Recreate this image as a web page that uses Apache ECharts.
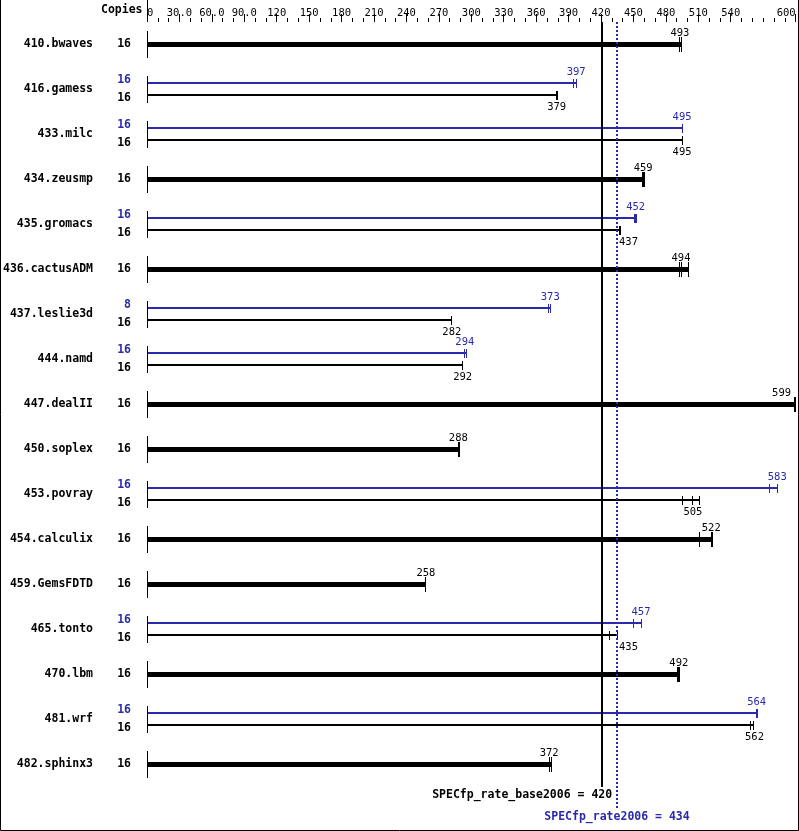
<!DOCTYPE html>
<html>
<head>
<meta charset="utf-8">
<script src="https://cdn.jsdelivr.net/npm/echarts@6/dist/echarts.min.js"></script>
<style>
html,body{margin:0;padding:0;background:#fff;}
#chart{width:799px;height:831px;}
</style>
</head>
<body>
<div id="chart"></div>
<script>
const benchmarks = ['410.bwaves','416.gamess','433.milc','434.zeusmp','435.gromacs','436.cactusADM','437.leslie3d','444.namd','447.dealII','450.soplex','453.povray','454.calculix','459.GemsFDTD','465.tonto','470.lbm','481.wrf','482.sphinx3'];
const baseCopies = [16,16,16,16,16,16,16,16,16,16,16,16,16,16,16,16,16];
const peakCopies = [null,16,16,null,16,null,8,16,null,null,16,null,null,16,null,16,null];
const baseValues = [493,379,495,459,437,494,282,292,599,288,505,522,258,435,492,562,372];
const peakValues = [null,397,495,null,452,null,373,294,null,null,583,null,null,457,null,564,null];
const baseRuns = [
  [493,493,494],[379,379,380],[495,495,495],[458,459,460],[437,437,438],
  [493,494,501],[282,282,282],[291.5,292,292],[599,599,599.5],[288,288,289],
  [495,505,511],[511,522,523.5],[258,258,258],[427.5,435,435],[491,492,493],
  [558.5,561,561],[372,372,374]
];
const peakRuns = [
  null,[395,397,397.5],[495,495,495],null,[451,452,453],
  null,[371,373,373],[293.5,294,295.5],null,null,
  [575.5,583,583.5],null,null,[450,457,457],null,
  [564,564,564.5],null
];
const tickValues = [0,30,60,90,120,150,180,210,240,270,300,330,360,390,420,450,480,510,540,600];
const tickLabels = ['0','30.0','60.0','90.0','120','150','180','210','240','270','300','330','360','390','420','450','480','510','540','600'];
const baseOverall = 420;
const peakOverall = 434;
const baseSummary = 'SPECfp_rate_base2006 = ' + baseOverall;
const peakSummary = 'SPECfp_rate2006 = ' + peakOverall;

const BLUE = '#2a2aaa';
const MONO = '"DejaVu Sans Mono", "Liberation Mono", monospace';

const barData = [];
benchmarks.forEach(function (name, i) {
  if (peakValues[i] != null) {
    barData.push({ value: [peakValues[i], i, 1].concat(peakRuns[i]) });
    barData.push({ value: [baseValues[i], i, 2].concat(baseRuns[i]) });
  } else {
    barData.push({ value: [baseValues[i], i, 0].concat(baseRuns[i]) });
  }
});

function renderBars(params, api) {
  const v = api.value(0), row = api.value(1), kind = api.value(2);
  const runs = [api.value(3), api.value(4), api.value(5)];
  const maxRun = Math.max.apply(null, runs);
  const cs = params.coordSys;
  const c0 = api.coord([0, row]);
  const cy = Math.floor(c0[1]);
  const off = kind === 1 ? -6 : (kind === 2 ? 6 : 0);
  const y = cy + off;
  const color = kind === 1 ? BLUE : '#000';
  const thick = kind === 0;
  const xEnd = api.coord([maxRun, row])[0];
  const children = [];
  if (thick) {
    children.push({ type: 'rect', shape: { x: c0[0], y: y - 2, width: xEnd - c0[0], height: 5 }, style: { fill: color } });
  } else {
    children.push({ type: 'rect', shape: { x: c0[0], y: y - 1, width: xEnd - c0[0], height: 2 }, style: { fill: color } });
  }
  const h = thick ? 7 : 4;
  runs.forEach(function (r) {
    const x = Math.floor(api.coord([r, row])[0]) + 0.5;
    children.push({ type: 'line', shape: { x1: x, y1: y - h, x2: x, y2: y + h + 1 }, style: { stroke: color, lineWidth: 1 } });
  });
  if (kind !== 1) {
    const sx = Math.floor(c0[0]) + 0.5;
    children.push({ type: 'line', shape: { x1: sx, y1: cy - 13, x2: sx, y2: cy + 14 }, style: { stroke: '#000', lineWidth: 1 } });
  }
  let lx = api.coord([v, row])[0];
  let align = 'center';
  const peakX = Math.floor(api.coord([peakOverall, row])[0]) + 1;
  const maxCenter = cs.x + cs.width - 14;
  if (lx > maxCenter) lx = maxCenter;
  if (kind === 2 && Math.abs(lx - peakX) < 12) { lx = peakX + 2; align = 'left'; }
  children.push({
    type: 'text',
    style: {
      text: String(v), x: lx, y: kind === 2 ? y + 12 : y - 11,
      align: align, verticalAlign: 'middle',
      font: '10.5px ' + MONO, fill: color
    }
  });
  return { type: 'group', children: children };
}

function renderRefs(params, api) {
  const v = api.value(0), kind = api.value(1);
  const cs = params.coordSys;
  const x = Math.floor(api.coord([v, 0])[0]);
  const children = [];
  if (kind === 0) {
    children.push({ type: 'rect', shape: { x: x, y: cs.y, width: 2, height: cs.height }, style: { fill: '#000' } });
    const px = api.coord([peakOverall, 0])[0];
    children.push({ type: 'text', style: { text: baseSummary, x: px - 4, y: cs.y + cs.height + 8, align: 'right', verticalAlign: 'middle', font: 'bold 11.5px ' + MONO, fill: '#000' } });
    const x0 = Math.floor(api.coord([0, 0])[0]) + 0.5;
    children.push({ type: 'line', shape: { x1: x0, y1: 0, x2: x0, y2: cs.y }, style: { stroke: '#000', lineWidth: 1 } });
  } else {
    children.push({ type: 'line', shape: { x1: x + 1, y1: cs.y, x2: x + 1, y2: cs.y + cs.height + 21 }, style: { stroke: BLUE, lineWidth: 2, lineDash: [2, 2] } });
    children.push({ type: 'text', style: { text: peakSummary, x: x + 1, y: cs.y + cs.height + 30, align: 'center', verticalAlign: 'middle', font: 'bold 11.5px ' + MONO, fill: BLUE } });
  }
  return { type: 'group', children: children };
}

const chart = echarts.init(document.getElementById('chart'), null, { renderer: 'canvas' });
chart.setOption({
  animation: false,
  backgroundColor: '#fff',
  title: {
    text: 'Copies', left: 101, top: 4, padding: 0,
    textStyle: { fontFamily: MONO, fontSize: 11.5, fontWeight: 'bold', color: '#000' }
  },
  grid: { left: 147, right: 3.4, top: 22, bottom: 44 },
  xAxis: [
    {
      type: 'value', position: 'top', min: 0, max: 600, interval: 30,
      axisLine: { show: false }, splitLine: { show: false },
      axisTick: { show: true, length: 8, customValues: tickValues, lineStyle: { color: '#000', width: 1 } },
      axisLabel: {
        show: true, margin: 3, customValues: tickValues,
        alignMinLabel: 'left', alignMaxLabel: 'right',
        fontFamily: MONO, fontSize: 10.5, color: '#000',
        formatter: function (val) { const k = tickValues.indexOf(val); return k >= 0 ? tickLabels[k] : ''; }
      }
    },
    {
      type: 'value', position: 'top', min: 0, max: 600, interval: 10,
      axisLine: { show: false }, splitLine: { show: false },
      axisTick: { show: true, length: 4, lineStyle: { color: '#000', width: 1 } },
      axisLabel: { show: false }
    }
  ],
  yAxis: [
    {
      type: 'category', data: benchmarks, inverse: true, position: 'left',
      axisLine: { show: false }, axisTick: { show: false }, splitLine: { show: false },
      axisLabel: { margin: 54, fontFamily: MONO, fontSize: 11.5, fontWeight: 'bold', color: '#000' }
    },
    {
      type: 'category', data: benchmarks, inverse: true, position: 'left',
      axisLine: { show: false }, axisTick: { show: false }, splitLine: { show: false },
      axisLabel: {
        margin: 16, fontFamily: MONO, fontSize: 11.5, fontWeight: 'bold', color: '#000',
        formatter: function (val, idx) {
          if (peakCopies[idx] != null) return '{p|' + peakCopies[idx] + '}\n{b|' + baseCopies[idx] + '}';
          return '{b|' + baseCopies[idx] + '}';
        },
        rich: {
          p: { color: BLUE, fontFamily: MONO, fontSize: 11.5, fontWeight: 'bold', lineHeight: 18 },
          b: { color: '#000', fontFamily: MONO, fontSize: 11.5, fontWeight: 'bold', lineHeight: 18 }
        }
      }
    }
  ],
  graphic: [{
    type: 'rect', shape: { x: 0.5, y: -2, width: 798, height: 832.5 },
    style: { fill: 'none', stroke: '#000', lineWidth: 1 }, silent: true, z: 100
  }],
  series: [
    { type: 'custom', name: 'bars', coordinateSystem: 'cartesian2d', xAxisIndex: 0, yAxisIndex: 0, renderItem: renderBars, data: barData, z: 2 },
    { type: 'custom', name: 'refs', coordinateSystem: 'cartesian2d', xAxisIndex: 0, yAxisIndex: 0, renderItem: renderRefs, data: [[baseOverall, 0], [peakOverall, 1]], z: 5 }
  ]
});
</script>
</body>
</html>
